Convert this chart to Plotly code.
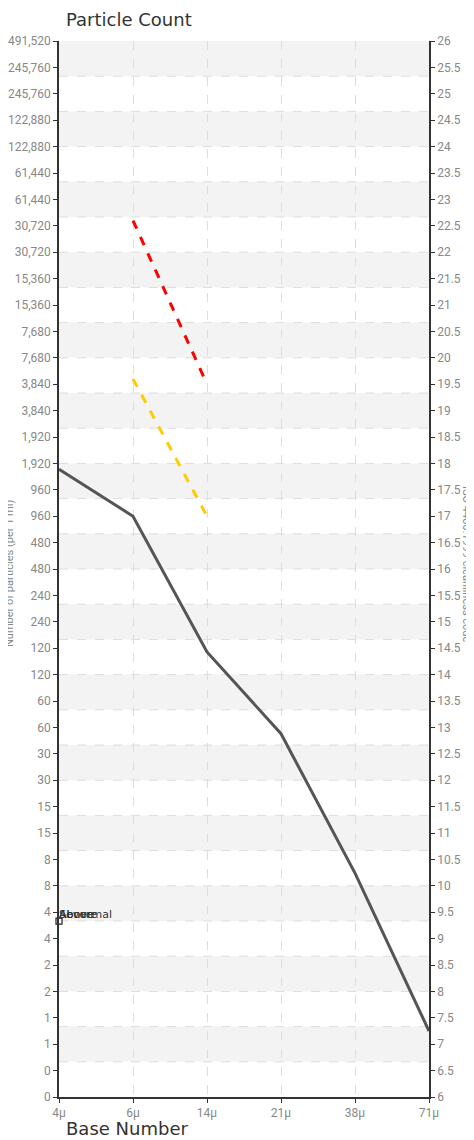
import plotly.graph_objects as go

categories = ["4\u03bc", "6\u03bc", "14\u03bc", "21\u03bc", "38\u03bc", "71\u03bc"]
sample_code = [17.89, 17.0, 14.43, 12.88, 10.24, 7.25]
red_limit = [None, 22.6, 19.5, None, None, None]
yellow_limit = [None, 19.6, 17.0, None, None, None]
code_ticks = [6 + 0.5 * i for i in range(41)]
count_labels = ["0", "0", "1", "1", "2", "2", "4", "4", "8", "8", "15", "15",
                "30", "30", "60", "60", "120", "120", "240", "240", "480", "480",
                "960", "960", "1,920", "1,920", "3,840", "3,840", "7,680", "7,680",
                "15,360", "15,360", "30,720", "30,720", "61,440", "61,440",
                "122,880", "122,880", "245,760", "245,760", "491,520"]
right_labels = [("%g" % v) for v in code_ticks]
marker_point = [9.33]
marker_labels = ["Above", "Severe", "Abnormal"]
n_bands = 30
y_min, y_max = 6, 26

xi = list(range(len(categories)))

fig = go.Figure()

shapes = []
bh = (y_max - y_min) / n_bands
for k in range(n_bands):
    top = y_max - k * bh
    bot = top - bh
    if k % 2 == 0:
        shapes.append(dict(type="rect", xref="paper", yref="y", x0=0, x1=1, y0=bot, y1=top,
                           fillcolor="#f3f3f3", line=dict(width=0), layer="below"))
for k in range(1, n_bands):
    yv = y_max - k * bh
    shapes.append(dict(type="line", xref="paper", yref="y", x0=0, x1=1, y0=yv, y1=yv,
                       line=dict(color="#dddddd", width=1, dash="dash"), layer="below"))

fig.add_trace(go.Scatter(x=xi, y=sample_code, mode="lines",
                         line=dict(color="#555555", width=3), showlegend=False))
fig.add_trace(go.Scatter(x=xi, y=red_limit, mode="lines",
                         line=dict(color="#ff0000", width=3, dash="dash"), showlegend=False))
fig.add_trace(go.Scatter(x=xi, y=yellow_limit, mode="lines",
                         line=dict(color="#ffcc00", width=3, dash="dash"), showlegend=False))
fig.add_trace(go.Scatter(x=[0], y=marker_point, mode="markers",
                         marker=dict(symbol="square", size=6, color="white",
                                     line=dict(color="#222222", width=1.2)),
                         cliponaxis=False, showlegend=False))
for lab in marker_labels:
    fig.add_trace(go.Scatter(x=[0], y=marker_point, mode="text", text=[lab],
                             textposition="top right",
                             textfont=dict(size=11, color="#333333", family="DejaVu Sans"),
                             cliponaxis=False, showlegend=False))
# invisible trace for right axis
fig.add_trace(go.Scatter(x=[0], y=[y_min], yaxis="y2", mode="markers",
                         marker=dict(opacity=0), showlegend=False, hoverinfo="skip"))

tickfont = dict(family="Roboto", size=12, color="#888888")

fig.update_layout(
    width=474, height=1140,
    margin=dict(l=51, r=53, t=33, b=51),
    plot_bgcolor="white", paper_bgcolor="white",
    shapes=shapes,
    xaxis=dict(range=[0, 5], tickvals=xi, ticktext=categories, showgrid=True,
               gridcolor="#dddddd", griddash="dash", gridwidth=1,
               showline=True, linecolor="#333333", linewidth=1.5,
               ticks="outside", ticklen=4, tickcolor="#333333",
               tickfont=tickfont, zeroline=False, automargin=False),
    yaxis=dict(range=[y_min, y_max], tickvals=code_ticks, ticktext=count_labels,
               showgrid=False, zeroline=False, showline=True, linecolor="#333333",
               linewidth=1.5, ticks="outside", ticklen=4, tickcolor="#333333",
               tickfont=tickfont, automargin=False),
    yaxis2=dict(range=[y_min, y_max], tickvals=code_ticks, ticktext=right_labels,
                overlaying="y", side="right", showgrid=False, zeroline=False,
                showline=True, linecolor="#333333", linewidth=1.5, ticks="outside",
                ticklen=4, tickcolor="#333333", tickfont=tickfont, automargin=False),
    annotations=[
        dict(text="Particle Count", xref="paper", yref="paper", x=(64 - 59) / 370,
             y=1, yshift=22, xanchor="left", yanchor="middle", showarrow=False,
             font=dict(family="DejaVu Sans", size=18, color="#333333")),
        dict(text="Base Number", xref="paper", yref="paper", x=(64 - 59) / 370,
             y=0, yshift=-31, xanchor="left", yanchor="middle", showarrow=False,
             font=dict(family="DejaVu Sans", size=18, color="#333333")),
        dict(text="Number of particles (per 1 ml)", xref="paper", yref="paper",
             x=0, xshift=-50, y=0.5, yshift=-5, textangle=-90, xanchor="center",
             yanchor="middle", showarrow=False,
             font=dict(family="Roboto", size=11, color="#888888")),
        dict(text="ISO 4406:1999 cleanliness code", xref="paper", yref="paper",
             x=1, xshift=38, y=0.5, yshift=5, textangle=90, xanchor="center",
             yanchor="middle", showarrow=False,
             font=dict(family="Roboto", size=11, color="#888888")),
    ],
)

fig.write_html("out.html")
